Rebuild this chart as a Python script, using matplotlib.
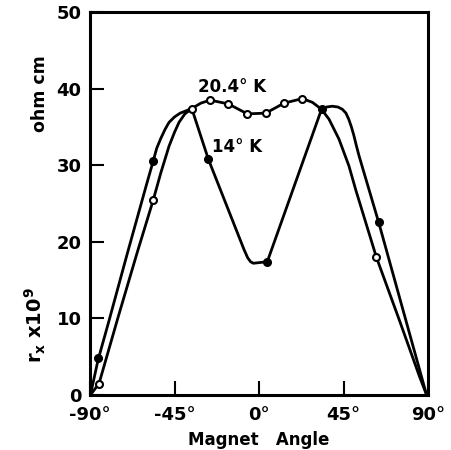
import matplotlib
matplotlib.use("Agg")
import matplotlib.pyplot as plt

# traced curve of the 14 K run
k14_line_x = [-89.8, -85.7, -80.0, -70.0, -60.0, -56.4, -54.5, -52.3, -50.0, -47.9, -45.0, -42.0,
              -39.9, -35.8, -27.0, -8.0, -6.0, -4.5, -3.0, 4.4, 33.3, 36.0, 39.0, 42.0, 44.4,
              46.3, 47.8, 49.2, 50.5, 51.8, 53.3, 63.9, 88.8]
k14_line_y = [0.0, 4.6, 9.6, 18.6, 27.4, 30.5, 32.2, 33.5, 34.7, 35.6, 36.3, 36.8,
              37.0, 37.4, 30.8, 19.0, 17.9, 17.4, 17.2, 17.4, 37.3, 37.6, 37.7, 37.6, 37.3,
              36.8, 36.0, 35.0, 33.9, 32.6, 31.2, 22.4, 0.4]
k14_pts_x = [-85.7, -56.4, -27.0, 4.4, 33.3, 63.9]
k14_pts_y = [4.8, 30.5, 30.8, 17.4, 37.3, 22.6]

# traced curve of the 20.4 K run
k20_line_x = [-89.8, -85.2, -75.0, -65.0, -56.4, -52.3, -47.9, -45.0, -42.6, -39.5, -35.8,
              -31.0, -26.1, -16.3, -6.2, 3.6, 13.3, 23.1, 28.5, 33.3, 37.3, 42.6, 47.9,
              51.5, 62.5, 75.0, 85.5, 88.8]
k20_line_y = [0.0, 1.5, 10.2, 18.5, 25.4, 29.0, 32.5, 34.3, 35.6, 36.7, 37.4,
              38.1, 38.5, 38.0, 36.7, 36.8, 38.1, 38.7, 38.2, 37.3, 36.0, 33.4, 29.9,
              26.8, 18.0, 9.6, 2.4, 0.3]
k20_pts_x = [-85.2, -56.4, -35.8, -26.1, -16.3, -6.2, 3.6, 13.3, 23.1, 62.5]
k20_pts_y = [1.5, 25.4, 37.4, 38.5, 38.0, 36.7, 36.8, 38.1, 38.7, 18.0]

x_ticks = [-90, -45, 0, 45, 90]
x_tick_labels = ["-90°", "-45°", "0°", "45°", "90°"]
y_ticks = [0, 10, 20, 30, 40, 50]

fig = plt.figure(figsize=(4.51, 4.50), dpi=100)
ax = fig.add_axes([0.1996, 0.1222, 0.7494, 0.8511])

ax.plot(k20_line_x, k20_line_y, color="black", lw=2.0, solid_joinstyle="round", zorder=2)
ax.plot(k14_line_x, k14_line_y, color="black", lw=2.0, solid_joinstyle="round", zorder=2)
ax.plot(k20_pts_x, k20_pts_y, ls="none", marker="o", ms=5, mfc="white", mec="black",
        mew=1.5, zorder=3)
ax.plot(k14_pts_x, k14_pts_y, ls="none", marker="o", ms=5.5, mfc="black", mec="black",
        zorder=4)

ax.text(-14.5, 40.2, "20.4° K", fontsize=12, fontweight="bold", ha="center", va="center")
ax.text(-11.5, 32.4, "14° K", fontsize=12, fontweight="bold", ha="center", va="center")

ax.set_xlim(-90, 90)
ax.set_ylim(0, 50)
ax.set_xticks(x_ticks)
ax.set_xticklabels(x_tick_labels)
ax.set_yticks(y_ticks)
ax.tick_params(direction="in", length=10, width=1.5, labelsize=13, pad=6)
ax.tick_params(axis="x", pad=8)
for lab in ax.get_xticklabels() + ax.get_yticklabels():
    lab.set_fontweight("bold")
for sp in ax.spines.values():
    sp.set_linewidth(2.2)

ax.set_xlabel("Magnet   Angle", fontsize=12, fontweight="bold", labelpad=5)

fig.text(0.088, 0.793, "ohm cm", rotation=90, fontsize=12.5, fontweight="bold",
         ha="center", va="center")
fig.text(0.078, 0.278, r"$\mathbf{r_x}$ $\mathbf{x10^9}$", rotation=90, fontsize=14,
         ha="center", va="center")

fig.savefig("out.png", dpi=100)
